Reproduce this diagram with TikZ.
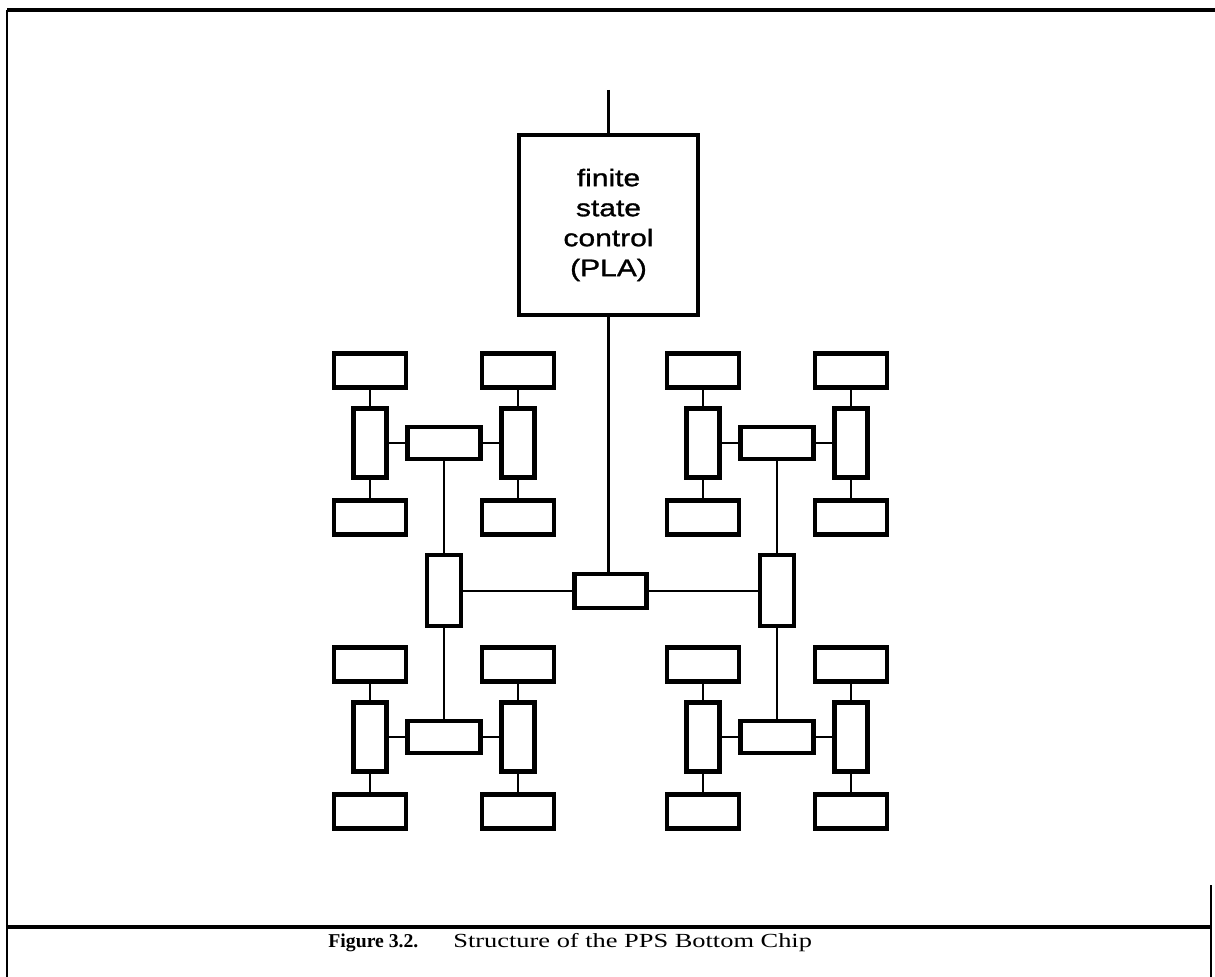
\documentclass[tikz,border=0pt]{standalone}
\usepackage{fontspec}
\usepackage{graphicx}
\newfontfamily\plafont[FakeStretch=1.25,FakeBold=1.2]{Liberation Sans}
\newfontfamily\capfont[FakeStretch=1.32]{Liberation Serif}
\newfontfamily\capbfont{Liberation Serif}
\begin{document}
\begin{tikzpicture}[x=0.5pt,y=-0.5pt,
  box/.style={draw,line width=2.2pt,inner sep=0pt,minimum width=36pt,minimum height=17pt},
  vbox/.style={draw,line width=2.2pt,inner sep=0pt,minimum width=16.5pt,minimum height=34.5pt},
  mbox/.style={draw,line width=2.2pt,inner sep=0pt,minimum width=36.5pt,minimum height=16pt},
  cvbox/.style={draw,line width=2.2pt,inner sep=0pt,minimum width=17pt,minimum height=35.5pt},
  pla/.style={draw,line width=2.2pt,inner sep=0pt,minimum width=89.5pt,minimum height=90pt,
    align=center,font=\plafont\fontsize{12}{15}\selectfont},
  wire/.style={line width=1.4pt},
  frame/.style={line width=1.8pt},
  thinframe/.style={line width=0.7pt}]
\useasboundingbox (0,0) rectangle (1215,977);
% frame
\coordinate (ftl) at (7,10);
\coordinate (ftr) at (1215,10);
\coordinate (fbl) at (7,977);
\coordinate (cl) at (7,927);
\coordinate (cr) at (1211,927);
\coordinate (rt) at (1211,885);
\coordinate (rb) at (1211,977);
\draw[frame] (ftl) -- (ftr);
\draw[thinframe] (ftl) -- (fbl);
\draw[frame] (cl) -- (cr);
\draw[thinframe] (rt) -- (rb);
% PLA
\node[pla] (pla) at (608.5,225) {finite\\state\\control\\(PLA)};
\coordinate (in) at (608.5,90);
\draw[wire] (in) -- (pla.north);
% central
\node[box] (cbox) at (610.5,591) {};
\node[cvbox] (lv) at (444,590.5) {};
\node[cvbox] (rv) at (777,590.5) {};
\draw[wire] (pla.south) -- (pla.south |- cbox.north);
\draw[wire] (cbox.west) -- (lv.east |- cbox.west);
\draw[wire] (cbox.east) -- (rv.west |- cbox.east);
% clusters
\foreach \cx/\cy/\n in {444/443/a, 777/443/b, 444/737/c, 777/737/d}{
  \begin{scope}[shift={(\cx,\cy)}]
    \node[mbox] (\n m) at (0,0) {};
    \node[vbox] (\n lv) at (-74,0) {};
    \node[vbox] (\n rv) at (74,0) {};
    \node[box] (\n tl) at (-74,-72.5) {};
    \node[box] (\n tr) at (74,-72.5) {};
    \node[box] (\n bl) at (-74,74.5) {};
    \node[box] (\n br) at (74,74.5) {};
    \draw[wire] (\n m.west) -- (\n lv.east |- \n m.west);
    \draw[wire] (\n m.east) -- (\n rv.west |- \n m.east);
    \draw[wire] (\n lv.north) -- (\n tl.south);
    \draw[wire] (\n lv.south) -- (\n bl.north);
    \draw[wire] (\n rv.north) -- (\n tr.south);
    \draw[wire] (\n rv.south) -- (\n br.north);
  \end{scope}
}
\draw[wire] (lv.north) -- (am.south);
\draw[wire] (lv.south) -- (cm.north);
\draw[wire] (rv.north) -- (bm.south);
\draw[wire] (rv.south) -- (dm.north);
% caption
\node[anchor=base west,inner sep=0pt] (capa) at (328,947) {\resizebox{45pt}{6.8pt}{\capbfont\bfseries\fontsize{10}{12}\selectfont Figure 3.2.}};
\node[anchor=base west,inner sep=0pt,font=\capfont\fontsize{10}{12}\selectfont] (capb) at (453,947) {Structure of the PPS Bottom Chip};
\end{tikzpicture}
\end{document}
